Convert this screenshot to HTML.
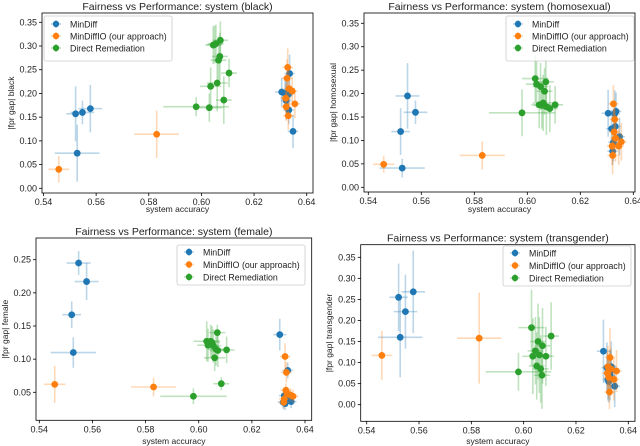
<!DOCTYPE html>
<html><head><meta charset="utf-8">
<style>
html,body{margin:0;padding:0;background:#fff;}
svg{display:block;font-family:"Liberation Sans","DejaVu Sans",sans-serif;}
</style></head>
<body>
<svg id="chart" width="640" height="446" viewBox="0 0 640 446" xmlns="http://www.w3.org/2000/svg"></svg>
<script>
// ---- shared x data (system accuracy) ----
const mdX = [0.5522,0.5548,0.5578,0.5528,0.6305,0.6318,0.6325,0.6330,0.6335,0.6348,0.6322,0.6332];
const mdXerr = [0.0035,0.0045,0.0045,0.0085,0.0025,0.002,0.002,0.002,0.002,0.002,0.002,0.002];
const drX = [0.598,0.603,0.6035,0.6045,0.605,0.6055,0.606,0.6065,0.607,0.6072,0.6085,0.6105];
const drXerr = [0.0125,0.005,0.004,0.003,0.003,0.003,0.004,0.003,0.003,0.003,0.003,0.003];
const moX = [0.5458,0.583,0.632,0.6322,0.6325,0.6328,0.633,0.6333,0.6345,0.6355];
const moXerr = [0.004,0.0085,0.002,0.002,0.002,0.002,0.002,0.002,0.002,0.002];

// ---- black ----
const blackMd = [0.157,0.160,0.168,0.074,0.203,0.200,0.195,0.198,0.242,0.120,0.185,0.165];
const blackMdErr = [0.058,0.025,0.05,0.06,0.03,0.03,0.03,0.03,0.04,0.035,0.04,0.03];
const blackDr = [0.172,0.170,0.215,0.302,0.303,0.305,0.222,0.270,0.278,0.312,0.186,0.243];
const blackDrErr = [0.02,0.03,0.04,0.04,0.04,0.04,0.06,0.05,0.05,0.04,0.05,0.03];
const blackMo = [0.040,0.114,0.190,0.172,0.232,0.255,0.153,0.210,0.205,0.178];
const blackMoErr = [0.028,0.05,0.03,0.03,0.04,0.04,0.03,0.04,0.03,0.03];
// ---- homosexual ----
const homoMd = [0.119,0.195,0.160,0.041,0.158,0.125,0.096,0.157,0.162,0.108,0.077,0.130];
const homoMdErr = [0.05,0.07,0.025,0.02,0.05,0.04,0.04,0.05,0.04,0.04,0.03,0.04];
const homoDr = [0.159,0.232,0.220,0.176,0.215,0.175,0.180,0.205,0.225,0.172,0.168,0.176];
const homoDrErr = [0.05,0.05,0.05,0.05,0.05,0.05,0.06,0.05,0.05,0.06,0.05,0.04];
const homoMo = [0.049,0.068,0.088,0.068,0.178,0.118,0.145,0.105,0.088,0.097];
const homoMoErr = [0.018,0.03,0.04,0.04,0.04,0.05,0.04,0.05,0.04,0.04];
// ---- female ----
const femMd = [0.167,0.245,0.217,0.110,0.137,0.035,0.033,0.040,0.083,0.036,0.045,0.038];
const femMdErr = [0.02,0.018,0.028,0.023,0.024,0.01,0.01,0.01,0.012,0.01,0.01,0.01];
const femDr = [0.044,0.127,0.121,0.127,0.125,0.120,0.102,0.115,0.140,0.113,0.063,0.114];
const femDrErr = [0.012,0.03,0.025,0.025,0.025,0.025,0.02,0.025,0.012,0.025,0.01,0.02];
const femMo = [0.062,0.058,0.035,0.040,0.104,0.053,0.080,0.048,0.046,0.044];
const femMoErr = [0.028,0.014,0.01,0.01,0.02,0.01,0.015,0.01,0.01,0.01];
// ---- transgender ----
const trMd = [0.255,0.221,0.268,0.160,0.127,0.088,0.055,0.070,0.090,0.044,0.060,0.080];
const trMdErr = [0.08,0.088,0.098,0.095,0.075,0.06,0.05,0.06,0.06,0.05,0.05,0.05];
const trDr = [0.078,0.183,0.115,0.128,0.092,0.150,0.118,0.085,0.070,0.140,0.115,0.163];
const trDrErr = [0.045,0.09,0.09,0.08,0.08,0.09,0.09,0.08,0.08,0.09,0.07,0.08];
const trMo = [0.117,0.158,0.075,0.090,0.065,0.030,0.112,0.085,0.060,0.080];
const trMoErr = [0.058,0.108,0.05,0.05,0.05,0.04,0.07,0.05,0.05,0.05];

const xTicks = [0.54,0.56,0.58,0.60,0.62,0.64];
const yTicksA = [0.00,0.05,0.10,0.15,0.20,0.25,0.30,0.35];
const yTicksF = [0.05,0.10,0.15,0.20,0.25];

const BLUE="#1f77b4", ORANGE="#ff7f0e", GREEN="#2ca02c";
const svg = document.getElementById('chart');
const NS = "http://www.w3.org/2000/svg";
function mk(tag, attrs, parent){const e=document.createElementNS(NS,tag);for(const k in attrs)e.setAttribute(k,attrs[k]);(parent||svg).appendChild(e);return e;}

const panels = [
 {key:'black',title:'Fairness vs Performance: system (black)',ylab:'|fpr gap| black',
  box:[42,13,313,193], xp:[43.5,306.7], yv:[0,0.35], yp:[188.3,22.3], yTicks:yTicksA,
  md:blackMd,mdE:blackMdErr,dr:blackDr,drE:blackDrErr,mo:blackMo,moE:blackMoErr, leg:[44,16], tx:[14,204,212]},
 {key:'homosexual',title:'Fairness vs Performance: system (homosexual)',ylab:'|fpr gap| homosexual',
  box:[364,13,635,192], xp:[368.3,633.3], yv:[0,0.35], yp:[187.3,23.3], yTicks:yTicksA,
  md:homoMd,mdE:homoMdErr,dr:homoDr,drE:homoDrErr,mo:homoMo,moE:homoMoErr, leg:[506,16], tx:[336,204,212]},
 {key:'female',title:'Fairness vs Performance: system (female)',ylab:'|fpr gap| female',
  box:[36,238,311.7,420.3], xp:[39.3,305], yv:[0.05,0.25], yp:[392.3,259.7], yTicks:yTicksF,
  md:femMd,mdE:femMdErr,dr:femDr,drE:femDrErr,mo:femMo,moE:femMoErr, leg:[177,245], tx:[8,432,442]},
 {key:'transgender',title:'Fairness vs Performance: system (transgender)',ylab:'|fpr gap| transgender',
  box:[360.7,244.7,635,421.3], xp:[366.7,628.3], yv:[0,0.35], yp:[404.7,257.3], yTicks:yTicksA,
  md:trMd,mdE:trMdErr,dr:trDr,drE:trDrErr,mo:trMo,moE:trMoErr, leg:[503,246], tx:[332,432,442]}
];

panels.forEach(p=>{
  const g = mk('g',{});
  
  
  const X = v => p.xp[0] + (v-0.54)/(0.10)*(p.xp[1]-p.xp[0]);
  const Y = v => p.yp[0] + (v-p.yv[0])/(p.yv[1]-p.yv[0])*(p.yp[1]-p.yp[0]);
  const [l,t,r,b] = p.box;
  // series
  function series(xs,xe,ys,ye,color,name){
    const sg = mk('g',{},g);
    
    
    ys.forEach((y,i)=>{
      const cx=X(xs[i]), cy=Y(y);
      const h=mk('line',{x1:X(xs[i]-xe[i]),x2:X(xs[i]+xe[i]),y1:cy,y2:cy,stroke:color,'stroke-width':1.6,'stroke-opacity':0.3},sg);
      
      
      const v=mk('line',{x1:cx,x2:cx,y1:Y(y-ye[i]),y2:Y(y+ye[i]),stroke:color,'stroke-width':1.6,'stroke-opacity':0.3},sg);
      
      
    });
    ys.forEach((y,i)=>{
      const c=mk('circle',{cx:X(xs[i]),cy:Y(y),r:3.4,fill:color},sg);
      
      
    });
  }
  series(mdX,mdXerr,p.md,p.mdE,BLUE,'mindiff');
  series(moX,moXerr,p.mo,p.moE,ORANGE,'mindiffio');
  series(drX,drXerr,p.dr,p.drE,GREEN,'direct-remediation');
  // frame
  const fr=mk('rect',{x:l,y:t,width:r-l,height:b-t,fill:'none',stroke:'#000','stroke-width':0.8},g);
  
  
  // x ticks
  xTicks.forEach(v=>{
    const x=X(v);
    const tk=mk('line',{x1:x,x2:x,y1:b,y2:b+3,stroke:'#000','stroke-width':0.8},g);
    
    
    const tl=mk('text',{x:x,y:b+12,'font-size':9,'text-anchor':'middle',fill:'#222'},g);
    tl.textContent=v.toFixed(2);
    
    
  });
  p.yTicks.forEach(v=>{
    const y=Y(v);
    const tk=mk('line',{x1:l-3,x2:l,y1:y,y2:y,stroke:'#000','stroke-width':0.8},g);
    
    
    const tl=mk('text',{x:l-5,y:y+3,'font-size':9,'text-anchor':'end',fill:'#222'},g);
    tl.textContent=v.toFixed(2);
    
    
  });
  const tt=mk('text',{x:(l+r)/2,y:t-3,'font-size':10.5,'text-anchor':'middle',fill:'#222'},g);
  tt.textContent=p.title;
  
  
  const xl=mk('text',{x:(l+r)/2,y:p.tx[2]+ (p.key==='female'||p.key==='transgender'?2:0),'font-size':8.5,'text-anchor':'middle',fill:'#222'},g);
  xl.textContent='system accuracy';
  
  
  const yl=mk('text',{x:0,y:0,'font-size':8.5,'text-anchor':'middle',fill:'#222',transform:`translate(${p.tx[0]},${(t+b)/2}) rotate(-90)`},g);
  yl.textContent=p.ylab;
  
  
  // legend
  const [lx,ly]=p.leg;
  const lg=mk('g',{},g);
  
  
  mk('rect',{x:lx,y:ly,width:128,height:p.key==='female'||p.key==='transgender'?40:45,rx:2,fill:'#fff','fill-opacity':0.8,stroke:'#ccc','stroke-width':0.8},lg);
  const items=[['MinDiff',BLUE],['MinDiffIO (our approach)',ORANGE],['Direct Remediation',GREEN]];
  const step = p.key==='female'||p.key==='transgender'?12.5:12;
  items.forEach((it,i)=>{
    const cy=ly+8+i*step+ (p.key==='female'||p.key==='transgender'?-1:0);
    const e=mk('g',{},lg);
    
    
    mk('line',{x1:lx+7,x2:lx+17,y1:cy,y2:cy,stroke:it[1],'stroke-width':1.5,'stroke-opacity':0.3},e);
    mk('line',{x1:lx+12,x2:lx+12,y1:cy-4,y2:cy+4,stroke:it[1],'stroke-width':1.5,'stroke-opacity':0.3},e);
    mk('circle',{cx:lx+12,cy:cy,r:3.2,fill:it[1]},e);
    const tx=mk('text',{x:lx+26,y:cy+3.3,'font-size':8.8,fill:'#222'},e);
    tx.textContent=it[0];
  });
});
</script>
</body></html>
